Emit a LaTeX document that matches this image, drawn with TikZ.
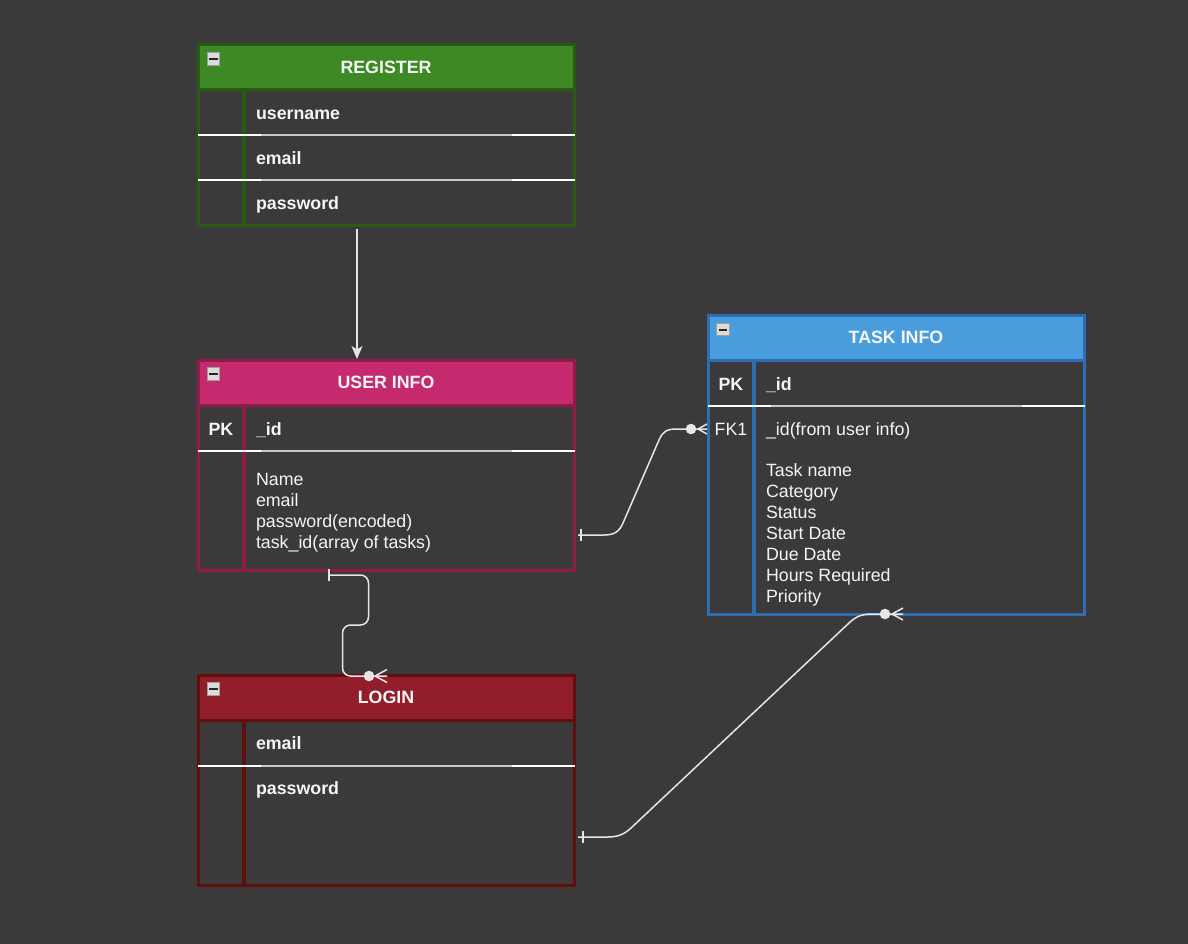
\documentclass[tikz,border=0pt]{standalone}
\usepackage{fontspec}
\setmainfont{Liberation Sans}
\usetikzlibrary{arrows.meta,calc}
\definecolor{bg}{RGB}{59,57,58}
\definecolor{regF}{RGB}{61,138,36}
\definecolor{regB}{RGB}{40,90,22}
\definecolor{usrF}{RGB}{197,42,110}
\definecolor{usrB}{RGB}{142,28,70}
\definecolor{logF}{RGB}{146,30,43}
\definecolor{logB}{RGB}{96,16,12}
\definecolor{tskF}{RGB}{74,157,220}
\definecolor{tskB}{RGB}{45,110,179}
\definecolor{lineC}{RGB}{230,230,230}
\definecolor{rowG}{RGB}{200,200,200}
\definecolor{txtC}{RGB}{245,245,245}
\tikzset{
  tbl/.style={draw, line width=3pt, fill=bg, outer sep=0pt, inner sep=0pt, minimum width=376pt},
  hdr/.style={draw, line width=3pt, outer sep=0pt, inner sep=0pt, minimum width=376pt,
    minimum height=45pt, anchor=north, text=txtC, font=\fontsize{17.8}{21}\selectfont\bfseries},
  fld/.style={anchor=base west, text=txtC, inner sep=0pt, outer sep=0pt, font=\fontsize{17.8}{21}\selectfont},
  bfld/.style={fld, font=\fontsize{17.8}{21}\selectfont\bfseries},
  colsep/.style={line width=4pt},
  rowwhite/.style={draw=white, line width=1.6pt},
  rowgray/.style={draw=rowG, line width=1.6pt},
  conn/.style={draw=lineC, line width=1.5pt},
  dot/.style={circle, fill=lineC, inner sep=0pt, minimum size=10.6pt},
  icon/.style={rectangle, draw=black!38, fill=black!14, line width=1pt, minimum size=12.5pt, inner sep=0pt},
  iconbar/.style={draw=black!85, line width=2.2pt}
}
\begin{document}
\begin{tikzpicture}[x=1pt,y=-1pt]
\fill[bg] (0,0) rectangle (1188,944);
\useasboundingbox (0,0) rectangle (1188,944);

% ---------- REGISTER ----------
\node[tbl, draw=regB, minimum height=180pt] (reg) at (386,135) {};
\draw[colsep, draw=regB] ($(reg.north west)+(46,44)$) -- ($(reg.south west)+(46,0)$);
\draw[rowwhite] ($(reg.north west)+(0,90)$) -- ($(reg.north east)+(1,90)$);
\draw[rowgray] ($(reg.north west)+(63,90)$) -- ($(reg.north west)+(314,90)$);
\draw[rowwhite] ($(reg.north west)+(0,135)$) -- ($(reg.north east)+(1,135)$);
\draw[rowgray] ($(reg.north west)+(63,135)$) -- ($(reg.north west)+(314,135)$);
\node[hdr, fill=regF, draw=regB] (regh) at (reg.north) {\raisebox{-1pt}{REGISTER}};
\node[bfld] (reg1) at (256,119.3) {username};
\node[bfld] (reg2) at (256,164.3) {email};
\node[bfld] (reg3) at (256,209.5) {password};
\node[icon] (regi) at (213.3,59) {};
\draw[iconbar] ($(regi.west)+(2.5,0)$) -- ($(regi.east)+(-2.5,0)$);

% ---------- USER INFO ----------
\node[tbl, draw=usrB, minimum height=210pt] (user) at (386,465) {};
\draw[colsep, draw=usrB] ($(user.north west)+(46,44)$) -- ($(user.south west)+(46,0)$);
\draw[rowwhite] ($(user.north west)+(0,91)$) -- ($(user.north east)+(1,91)$);
\draw[rowgray] ($(user.north west)+(63,91)$) -- ($(user.north west)+(314,91)$);
\node[hdr, fill=usrF, draw=usrB] (userh) at (user.north) {\raisebox{-1pt}{USER INFO}};
\node[bfld] (upk) at (208.6,435) {PK};
\node[bfld] (uid) at (256,435) {\_id};
\node[fld] (ub1) at (256,485.5) {Name};
\node[fld] (ub2) at (256,506.5) {email};
\node[fld] (ub3) at (256,527.5) {password(encoded)};
\node[fld] (ub4) at (256,548.5) {task\_id(array of tasks)};
\node[icon] (useri) at (213.3,374) {};
\draw[iconbar] ($(useri.west)+(2.5,0)$) -- ($(useri.east)+(-2.5,0)$);

% ---------- LOGIN ----------
\node[tbl, draw=logB, minimum height=210pt] (login) at (386,780) {};
\draw[colsep, draw=logB] ($(login.north west)+(46,44)$) -- ($(login.south west)+(46,0)$);
\draw[rowwhite] ($(login.north west)+(0,91)$) -- ($(login.north east)+(1,91)$);
\draw[rowgray] ($(login.north west)+(63,91)$) -- ($(login.north west)+(314,91)$);
\node[hdr, fill=logF, draw=logB] (loginh) at (login.north) {\raisebox{-1pt}{LOGIN}};
\node[bfld] (log1) at (256,749.3) {email};
\node[bfld] (log2) at (256,794.3) {password};
\node[icon] (logini) at (213.3,689) {};
\draw[iconbar] ($(logini.west)+(2.5,0)$) -- ($(logini.east)+(-2.5,0)$);

% ---------- TASK INFO ----------
\node[tbl, draw=tskB, minimum height=299pt] (task) at (896,464.5) {};
\draw[colsep, draw=tskB] ($(task.north west)+(46,44)$) -- ($(task.south west)+(46,0)$);
\draw[rowwhite] ($(task.north west)+(0,91)$) -- ($(task.north east)+(1,91)$);
\draw[rowgray] ($(task.north west)+(63,91)$) -- ($(task.north west)+(314,91)$);
\node[hdr, fill=tskF, draw=tskB] (taskh) at (task.north) {\raisebox{-1pt}{TASK INFO}};
\node[bfld] (tpk) at (718.6,390) {PK};
\node[bfld] (tid) at (766,390) {\_id};
\node[fld] (tfk) at (714.7,435) {FK1};
\node[fld] (tb0) at (766,435) {\_id(from user info)};
\node[fld] (tb1) at (766,476.7) {Task name};
\node[fld] (tb2) at (766,497.7) {Category};
\node[fld] (tb3) at (766,518.7) {Status};
\node[fld] (tb4) at (766,539.7) {Start Date};
\node[fld] (tb5) at (766,560.7) {Due Date};
\node[fld] (tb6) at (766,581.7) {Hours Required};
\node[fld] (tb7) at (766,602.7) {Priority};
\node[icon] (taski) at (723,329.7) {};
\draw[iconbar] ($(taski.west)+(2.5,0)$) -- ($(taski.east)+(-2.5,0)$);

% ---------- Connectors ----------
% register -> user info
\draw[conn, -{Stealth[length=13pt,width=11pt,inset=3.5pt,fill=lineC]}]
  ($(reg.south)+(-29,4)$) -- ($(user.north)+(-29,-1)$);

% user info -> task info (FK1)
\coordinate (c2s) at ($(user.north east)+(4,175)$);
\coordinate (c2e) at ($(task.north west)+(-1,114)$);
\draw[conn] (c2s) -- ++(26,0) .. controls ++(10,0) and ++(-4,9) .. (623,523)
  -- (659,440) .. controls ++(4,-9) and ++(-10,0) .. (677,429) -- (c2e);
\draw[conn] ($(c2s)+(3,-6)$) -- ($(c2s)+(3,6)$);
\node[dot] (c2d) at ($(c2e)+(-16,0)$) {};
\draw[conn] ($(c2e)+(-9,0)$) -- ($(c2e)+(0,-5)$);
\draw[conn] ($(c2e)+(-9,0)$) -- ($(c2e)+(0,5)$);

% user info -> login
\coordinate (c3s) at ($(user.south)+(-57,5)$);
\coordinate (c3e) at ($(login.north)+(1,1)$);
\draw[conn, rounded corners=8pt] (c3s) -| (368.5,625) -| (342.5,676) -- (c3e);
\draw[conn] ($(c3s)+(0,-6)$) -- ($(c3s)+(0,6)$);
\node[dot] (c3d) at ($(c3e)+(-18,0)$) {};
\draw[conn] ($(c3e)+(-12,0)$) -- ($(c3e)+(0,-6.5)$);
\draw[conn] ($(c3e)+(-12,0)$) -- ($(c3e)+(0,6.5)$);

% login -> task info
\coordinate (c4s) at ($(login.south east)+(4,-48)$);
\coordinate (c4e) at ($(task.south)+(7,0)$);
\draw[conn] (c4s) -- ++(30,0) .. controls ++(9,0) and ++(-7,6.6) .. (631,828)
  -- (849,623) .. controls ++(7,-6.6) and ++(-10,0) .. (872,614) -- (c4e);
\draw[conn] ($(c4s)+(5,-6)$) -- ($(c4s)+(5,6)$);
\node[dot] (c4d) at ($(c4e)+(-18,0)$) {};
\draw[conn] ($(c4e)+(-11,0)$) -- ($(c4e)+(0,-6)$);
\draw[conn] ($(c4e)+(-11,0)$) -- ($(c4e)+(0,6)$);
\end{tikzpicture}
\end{document}
